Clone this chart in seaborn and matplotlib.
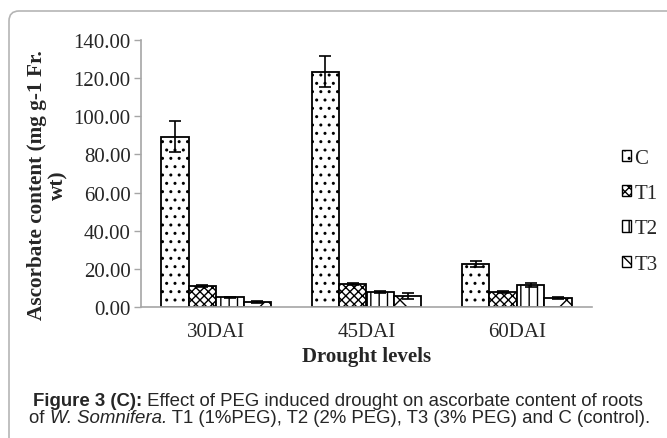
import matplotlib
matplotlib.use("Agg")
import matplotlib.pyplot as plt
from matplotlib.patches import FancyBboxPatch
import seaborn as sns
import pandas as pd
import numpy as np

# ---- data ----
categories = ["30DAI", "45DAI", "60DAI"]
series = ["C", "T1", "T2", "T3"]
values_C = [89.3, 123.4, 22.5]
values_T1 = [10.8, 12.1, 8.0]
values_T2 = [5.1, 8.0, 11.5]
values_T3 = [2.5, 5.6, 4.7]
err_C = [8.2, 8.0, 1.5]
err_T1 = [0.5, 0.6, 0.5]
err_T2 = [0.3, 0.6, 1.0]
err_T3 = [0.6, 1.5, 0.5]
yticks = [0, 20, 40, 60, 80, 100, 120, 140]

vals = {"C": values_C, "T1": values_T1, "T2": values_T2, "T3": values_T3}
errs = {"C": err_C, "T1": err_T1, "T2": err_T2, "T3": err_T3}
rows = []
for s in series:
    for i, c in enumerate(categories):
        rows.append({"level": c, "treat": s, "value": vals[s][i], "err": errs[s][i]})
df = pd.DataFrame(rows)

sns.set_theme(style="white")
plt.rcParams["font.family"] = ["Liberation Serif", "DejaVu Serif"]
plt.rcParams["hatch.linewidth"] = 1.0
plt.rcParams["hatch.color"] = "black"

W, H = 667, 439
fig = plt.figure(figsize=(W / 100, H / 100), dpi=100)
fig.patch.set_facecolor("white")
ax = fig.add_axes([141 / W, 1 - 308 / H, (592 - 141) / W, (308 - 41) / H])

palette = {s: "white" for s in series}
sns.barplot(data=df, x="level", y="value", hue="treat", order=categories,
            hue_order=series, palette=palette, width=0.73, errorbar=None,
            edgecolor="black", linewidth=1.3, ax=ax, legend=True)

hatches = {"C": "..", "T1": "xxxx", "T2": "||", "T3": "x"}
for cont, s in zip(ax.containers, series):
    xs, hs = [], []
    for p in cont.patches:
        p.set_hatch(hatches[s])
        p.set_edgecolor("black")
        xs.append(p.get_x() + p.get_width() / 2)
        hs.append(p.get_height())
    ax.errorbar(xs, hs, yerr=errs[s], fmt="none", ecolor="black",
                elinewidth=1.2, capsize=4, capthick=1.2, zorder=5)

ax.set_ylim(0, 140)
ax.set_xlim(-0.5, 2.5)
ax.set_yticks(yticks)
ax.set_yticklabels([f"{v:.2f}" for v in yticks], fontsize=15)
ax.set_xticks(range(len(categories)))
ax.set_xticklabels(categories, fontsize=15)
ax.set_xticks([-0.5, 0.5, 1.5, 2.5], minor=True)
ax.tick_params(axis="x", which="major", length=0, pad=11)
ax.tick_params(axis="x", which="minor", length=5, color="#a6a6a6", width=1, direction="out")
ax.tick_params(axis="y", length=5, color="#a6a6a6", width=1, direction="out", pad=2.5, left=True)
for sp in ["top", "right"]:
    ax.spines[sp].set_visible(False)
for sp in ["left", "bottom"]:
    ax.spines[sp].set_color("#a6a6a6")
    ax.spines[sp].set_linewidth(1.2)

ax.set_xlabel("Drought levels", fontsize=15, fontweight="bold")
ax.xaxis.set_label_coords(0.5, -0.145)
ax.set_ylabel("Ascorbate content (mg g-1 Fr.\nwt)", fontsize=15.3, fontweight="bold",
              linespacing=1.05)
ax.yaxis.set_label_coords(-0.162, 0.46)

leg = ax.legend(loc="upper left", bbox_to_anchor=(622 / W, 1 - 150 / H),
                bbox_transform=fig.transFigure, frameon=False, fontsize=15,
                handlelength=0.45, handleheight=0.45, handletextpad=0.15,
                labelspacing=0.78, borderpad=0, borderaxespad=0)
for h, s in zip(leg.legend_handles, series):
    h.set_hatch(hatches[s])
    h.set_edgecolor("black")
    h.set_linewidth(1.0)

# outer rounded frame
frame = FancyBboxPatch((9, -60), 720, 439 - 12 + 60,
                       boxstyle="round,pad=0,rounding_size=10",
                       transform=None, facecolor="none", edgecolor="#b5b5b5",
                       linewidth=1.2)
fig.add_artist(frame)

# caption
cap_font = ["Liberation Sans", "DejaVu Sans"]
renderer = fig.canvas.get_renderer()
def put_runs(runs, x0, y):
    x = x0
    for txt, kw in runs:
        t = fig.text(x, y, txt, fontsize=13.4, family=cap_font, va="baseline",
                     ha="left", transform=None, **kw)
        bb = t.get_window_extent(renderer=renderer)
        x = bb.x1

put_runs([("Figure 3 (C):", {"fontweight": "bold"}),
          (" Effect of PEG induced drought on ascorbate content of roots", {})],
         33, H - 406)
put_runs([("of ", {}), ("W. Somnifera.", {"fontstyle": "italic"}),
          (" T1 (1%PEG), T2 (2% PEG), T3 (3% PEG) and C (control).", {})],
         29, H - 423)

fig.savefig("out.png", dpi=100)
